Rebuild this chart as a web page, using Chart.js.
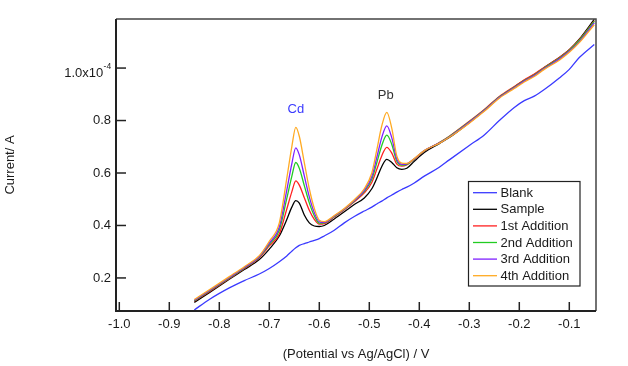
<!DOCTYPE html>
<html>
<head>
<meta charset="utf-8">
<script src="https://cdn.jsdelivr.net/npm/chart.js@4/dist/chart.umd.min.js"></script>
<style>
html,body{margin:0;padding:0;background:#fff;}
#wrap{width:628px;height:366px;position:relative;}
</style>
</head>
<body>
<div id="wrap"><canvas id="c" width="628" height="366"></canvas></div>
<script>
// Potential (V vs Ag/AgCl)
const potential = [-0.85, -0.82, -0.78, -0.75, -0.72, -0.70, -0.68, -0.665, -0.655, -0.647, -0.64, -0.63, -0.62, -0.61, -0.60, -0.59, -0.57, -0.55, -0.53, -0.51, -0.495, -0.485, -0.475, -0.465, -0.455, -0.445, -0.435, -0.425, -0.41, -0.39, -0.36, -0.34, -0.30, -0.27, -0.24, -0.21, -0.19, -0.17, -0.15, -0.12, -0.10, -0.08, -0.05];

// Current in units of 1e-4 A
const blank = [0.078, 0.118, 0.162, 0.19, 0.215, 0.236, 0.262, 0.284, 0.302, 0.315, 0.324, 0.331, 0.337, 0.343, 0.35, 0.36, 0.382, 0.41, 0.434, 0.455, 0.47, 0.482, 0.493, 0.505, 0.516, 0.527, 0.537, 0.546, 0.562, 0.588, 0.622, 0.65, 0.705, 0.745, 0.8, 0.85, 0.876, 0.893, 0.918, 0.962, 0.995, 1.04, 1.09];
const sample = [0.107, 0.144, 0.195, 0.232, 0.27, 0.31, 0.36, 0.423, 0.47, 0.495, 0.485, 0.44, 0.41, 0.398, 0.396, 0.4, 0.425, 0.452, 0.48, 0.505, 0.54, 0.58, 0.625, 0.652, 0.64, 0.62, 0.614, 0.618, 0.645, 0.678, 0.712, 0.735, 0.792, 0.838, 0.888, 0.928, 0.953, 0.975, 1.002, 1.04, 1.07, 1.11, 1.186];
const addition1 = [0.111, 0.148, 0.198, 0.236, 0.277, 0.322, 0.368, 0.463, 0.528, 0.57, 0.554, 0.506, 0.458, 0.423, 0.405, 0.407, 0.432, 0.46, 0.49, 0.524, 0.564, 0.614, 0.666, 0.698, 0.676, 0.634, 0.626, 0.631, 0.652, 0.684, 0.716, 0.74, 0.797, 0.842, 0.892, 0.93, 0.955, 0.977, 1.003, 1.04, 1.07, 1.108, 1.18];
const addition2 = [0.113, 0.15, 0.2, 0.238, 0.28, 0.328, 0.382, 0.503, 0.587, 0.64, 0.618, 0.552, 0.486, 0.437, 0.409, 0.41, 0.434, 0.462, 0.493, 0.53, 0.576, 0.639, 0.705, 0.744, 0.709, 0.645, 0.63, 0.633, 0.653, 0.685, 0.715, 0.739, 0.795, 0.84, 0.89, 0.927, 0.952, 0.973, 1.0, 1.037, 1.067, 1.105, 1.178];
const addition3 = [0.115, 0.152, 0.202, 0.24, 0.282, 0.333, 0.394, 0.535, 0.635, 0.696, 0.669, 0.589, 0.509, 0.449, 0.414, 0.412, 0.436, 0.463, 0.495, 0.534, 0.586, 0.659, 0.736, 0.78, 0.734, 0.653, 0.633, 0.635, 0.654, 0.686, 0.714, 0.737, 0.793, 0.838, 0.888, 0.925, 0.95, 0.971, 0.998, 1.034, 1.064, 1.1, 1.172];
const addition4 = [0.118, 0.155, 0.205, 0.243, 0.285, 0.34, 0.41, 0.58, 0.70, 0.774, 0.74, 0.64, 0.54, 0.465, 0.42, 0.415, 0.438, 0.465, 0.498, 0.54, 0.60, 0.688, 0.78, 0.831, 0.77, 0.665, 0.638, 0.637, 0.655, 0.686, 0.713, 0.736, 0.79, 0.835, 0.885, 0.922, 0.947, 0.968, 0.995, 1.03, 1.06, 1.097, 1.165];

const seriesNames = ['Blank', 'Sample', '1st Addition', '2nd Addition', '3rd Addition', '4th Addition'];
const seriesValues = [blank, sample, addition1, addition2, addition3, addition4];
const seriesColors = ['#3a3aff', '#000000', '#ff2020', '#22cc22', '#7f1fff', '#ffaa22'];

const xTicks = [-1.0, -0.9, -0.8, -0.7, -0.6, -0.5, -0.4, -0.3, -0.2, -0.1];
const yTicks = [0.2, 0.4, 0.6, 0.8, 1.0];
const yExpTick = 1.0;
const yExpMain = '1.0x10';
const yExpSup = '-4';

const peakNames = ['Cd', 'Pb'];
const peakLabelX = [-0.647, -0.467];
const peakLabelY = [0.843, 0.894];
const peakColors = ['#3a3aff', '#333333'];

const FONT = '"Liberation Sans", Arial, sans-serif';
const TEXT = '#1a1a1a';

const datasets = seriesValues.map((vals, i) => ({
  label: seriesNames[i],
  data: potential.map((x, j) => ({x: x, y: vals[j]})),
  borderColor: seriesColors[i],
  backgroundColor: seriesColors[i],
  borderWidth: 1.3,
  pointRadius: 0,
  fill: false,
  cubicInterpolationMode: 'monotone',
  order: seriesValues.length - i
}));

const framePlugin = {
  id: 'frame',
  afterDatasetsDraw(chart) {
    const ctx = chart.ctx;
    const a = chart.chartArea;
    const xs = chart.scales.x, ys = chart.scales.y;
    ctx.save();
    // top and right border
    ctx.strokeStyle = '#444';
    ctx.lineWidth = 1.5;
    ctx.beginPath();
    ctx.moveTo(a.left, a.top); ctx.lineTo(a.right, a.top); ctx.lineTo(a.right, a.bottom);
    ctx.stroke();
    // left and bottom axes
    ctx.strokeStyle = '#222';
    ctx.lineWidth = 2;
    ctx.beginPath();
    ctx.moveTo(a.left, a.top); ctx.lineTo(a.left, a.bottom); ctx.lineTo(a.right, a.bottom);
    ctx.stroke();
    // inward tick marks
    ctx.lineWidth = 1.5;
    xTicks.forEach(v => {
      const px = xs.getPixelForValue(v);
      ctx.beginPath(); ctx.moveTo(px, a.bottom); ctx.lineTo(px, a.bottom - 9); ctx.stroke();
    });
    yTicks.forEach(v => {
      const py = ys.getPixelForValue(v);
      ctx.beginPath(); ctx.moveTo(a.left, py); ctx.lineTo(a.left + 10, py); ctx.stroke();
    });
    // exponent tick label
    const ty = ys.getPixelForValue(yExpTick);
    const rx = a.left - 12.7;
    ctx.fillStyle = TEXT;
    ctx.textBaseline = 'alphabetic';
    ctx.textAlign = 'right';
    ctx.font = '13px ' + FONT;
    ctx.fillText(yExpMain, rx, ty + 8.7);
    ctx.textAlign = 'left';
    ctx.font = '8.5px ' + FONT;
    ctx.fillText(yExpSup, rx + 0.3, ty + 0.5);
    // peak annotations
    ctx.font = '13px ' + FONT;
    ctx.textAlign = 'center';
    ctx.textBaseline = 'middle';
    peakNames.forEach((n, i) => {
      ctx.fillStyle = peakColors[i];
      ctx.fillText(n, xs.getPixelForValue(peakLabelX[i]), ys.getPixelForValue(peakLabelY[i]));
    });
    // legend
    const lx = 468.5, ly = 181.5, lw = 111.5, lh = 104.5;
    ctx.fillStyle = '#fff';
    ctx.fillRect(lx, ly, lw, lh);
    ctx.strokeStyle = '#222';
    ctx.lineWidth = 1.2;
    ctx.strokeRect(lx, ly, lw, lh);
    ctx.textAlign = 'left';
    chart.data.datasets.forEach((ds, i) => {
      const y = 192.7 + i * 16.6;
      ctx.strokeStyle = ds.borderColor;
      ctx.lineWidth = 1.3;
      ctx.beginPath(); ctx.moveTo(473, y); ctx.lineTo(497, y); ctx.stroke();
      ctx.fillStyle = TEXT;
      ctx.fillText(ds.label, 500.5, y + 0.5);
    });
    ctx.restore();
  }
};

new Chart(document.getElementById('c'), {
  type: 'line',
  data: { datasets: datasets },
  options: {
    responsive: false,
    animation: false,
    devicePixelRatio: 1,
    layout: { padding: { left: 0, right: 32, top: 19, bottom: 0 } },
    plugins: { legend: { display: false }, tooltip: { enabled: false } },
    scales: {
      x: {
        type: 'linear',
        min: -1.0066,
        max: -0.0466,
        afterFit(s) { s.height = 55; },
        afterBuildTicks(s) { s.ticks = xTicks.map(v => ({value: v})); },
        grid: { display: false, drawTicks: false },
        border: { display: false },
        ticks: {
          padding: 6,
          color: TEXT,
          font: { family: FONT, size: 13 },
          maxRotation: 0,
          autoSkip: false,
          callback: v => v.toFixed(1)
        },
        title: {
          display: true,
          text: '(Potential vs Ag/AgCl) / V',
          color: TEXT,
          font: { family: FONT, size: 13 },
          padding: { top: 4, bottom: 4 }
        }
      },
      y: {
        type: 'linear',
        min: 0.074,
        max: 1.187,
        afterFit(s) { s.width = 116; },
        afterBuildTicks(s) { s.ticks = yTicks.map(v => ({value: v})); },
        grid: { display: false, drawTicks: false },
        border: { display: false },
        ticks: {
          padding: 5,
          color: TEXT,
          font: { family: FONT, size: 13 },
          autoSkip: false,
          callback: v => (Math.abs(v - yExpTick) < 1e-9 ? '' : v.toFixed(1))
        },
        title: {
          display: true,
          text: 'Current/ A',
          color: TEXT,
          font: { family: FONT, size: 13 },
          padding: { top: 3, bottom: 4 }
        }
      }
    }
  },
  plugins: [framePlugin]
});
</script>
</body>
</html>
